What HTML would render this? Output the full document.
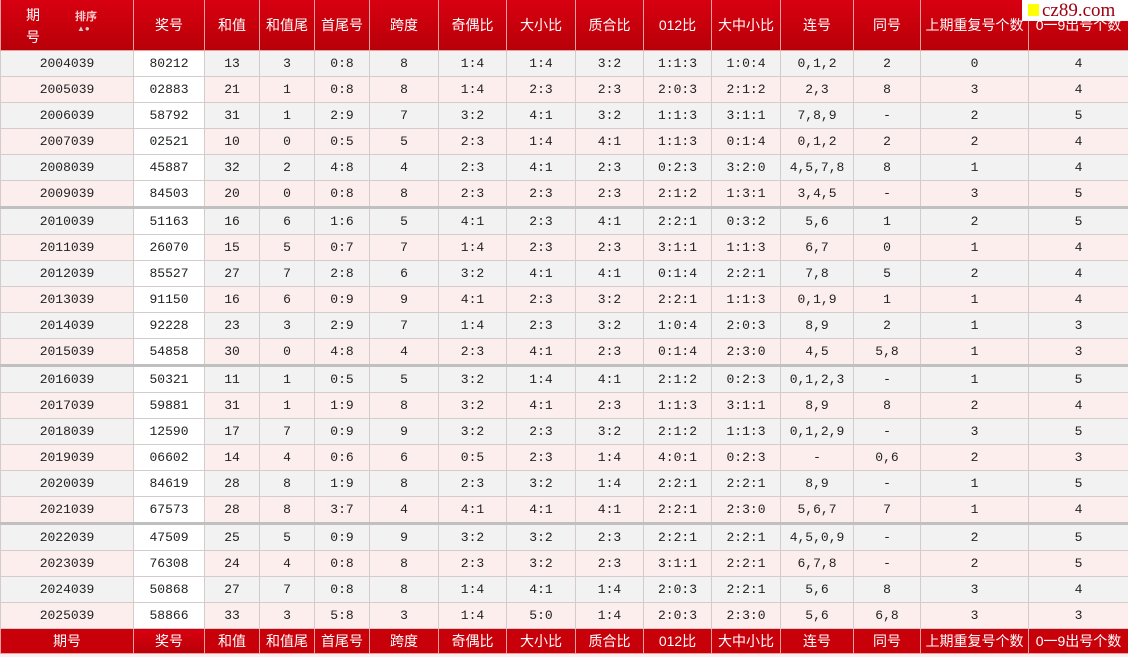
<!DOCTYPE html>
<html><head><meta charset="utf-8"><style>
body{margin:0;width:1128px;height:657px;overflow:hidden;background:#fdeeee;}
table{border-collapse:collapse;table-layout:fixed;width:1128px;position:absolute;left:0;top:0;}
td{border:1px solid #d4cccc;text-align:center;font:13px "Liberation Mono","Noto Sans CJK SC",monospace;color:#222;height:25px;padding:0;white-space:nowrap;overflow:hidden;}
tr.h td{background:linear-gradient(#d80010,#b80008);color:#fff;font:14px "Liberation Sans","Noto Sans CJK SC",sans-serif;height:50px;border:1px solid #e8a0a0;border-top:none;}
tr.f td{background:#c8000a;color:#fff;font:14px "Liberation Sans","Noto Sans CJK SC",sans-serif;height:24px;border:1px solid #e8a0a0;}
tr.o td{background:#f2f2f2;}
tr.e td{background:#fdeeee;}
tr td:nth-child(2){background:#fff;}
tr.h td:nth-child(2),tr.f td:nth-child(2){background:linear-gradient(#d80010,#b80008);}
tr.s td{border-top:3px solid #c0c0c0;}
.logo{position:absolute;left:1022px;top:0;width:106px;height:21px;background:#fff;font:19px "Liberation Serif",serif;color:#a00010;}
.logo i{display:inline-block;width:11px;height:12px;background:#ff0;margin:0 3px 0 6px;}
</style></head><body>
<table>
<colgroup><col style="width:133px"><col style="width:71px"><col style="width:55px"><col style="width:55px"><col style="width:55px"><col style="width:69px"><col style="width:68px"><col style="width:69px"><col style="width:68px"><col style="width:68px"><col style="width:69px"><col style="width:73px"><col style="width:67px"><col style="width:108px"><col style="width:100px"></colgroup>
<tr class="h"><td style="text-align:left;position:relative"><span style="position:absolute;left:25px;top:4px;line-height:22px">期<br>号</span><span style="position:absolute;left:74px;top:8px;font-size:11px;font-weight:bold;color:#fcc">排序</span><span style="position:absolute;left:76px;top:24px;font-size:8px;color:#ccc">▲●</span></td><td>奖号</td><td>和值</td><td>和值尾</td><td>首尾号</td><td>跨度</td><td>奇偶比</td><td>大小比</td><td>质合比</td><td>012比</td><td>大中小比</td><td>连号</td><td>同号</td><td>上期重复号个数</td><td>0一9出号个数</td></tr>
<tr class="o"><td>2004039</td><td>80212</td><td>13</td><td>3</td><td>0:8</td><td>8</td><td>1:4</td><td>1:4</td><td>3:2</td><td>1:1:3</td><td>1:0:4</td><td>0,1,2</td><td>2</td><td>0</td><td>4</td></tr>
<tr class="e"><td>2005039</td><td>02883</td><td>21</td><td>1</td><td>0:8</td><td>8</td><td>1:4</td><td>2:3</td><td>2:3</td><td>2:0:3</td><td>2:1:2</td><td>2,3</td><td>8</td><td>3</td><td>4</td></tr>
<tr class="o"><td>2006039</td><td>58792</td><td>31</td><td>1</td><td>2:9</td><td>7</td><td>3:2</td><td>4:1</td><td>3:2</td><td>1:1:3</td><td>3:1:1</td><td>7,8,9</td><td>-</td><td>2</td><td>5</td></tr>
<tr class="e"><td>2007039</td><td>02521</td><td>10</td><td>0</td><td>0:5</td><td>5</td><td>2:3</td><td>1:4</td><td>4:1</td><td>1:1:3</td><td>0:1:4</td><td>0,1,2</td><td>2</td><td>2</td><td>4</td></tr>
<tr class="o"><td>2008039</td><td>45887</td><td>32</td><td>2</td><td>4:8</td><td>4</td><td>2:3</td><td>4:1</td><td>2:3</td><td>0:2:3</td><td>3:2:0</td><td>4,5,7,8</td><td>8</td><td>1</td><td>4</td></tr>
<tr class="e"><td>2009039</td><td>84503</td><td>20</td><td>0</td><td>0:8</td><td>8</td><td>2:3</td><td>2:3</td><td>2:3</td><td>2:1:2</td><td>1:3:1</td><td>3,4,5</td><td>-</td><td>3</td><td>5</td></tr>
<tr class="o s"><td>2010039</td><td>51163</td><td>16</td><td>6</td><td>1:6</td><td>5</td><td>4:1</td><td>2:3</td><td>4:1</td><td>2:2:1</td><td>0:3:2</td><td>5,6</td><td>1</td><td>2</td><td>5</td></tr>
<tr class="e"><td>2011039</td><td>26070</td><td>15</td><td>5</td><td>0:7</td><td>7</td><td>1:4</td><td>2:3</td><td>2:3</td><td>3:1:1</td><td>1:1:3</td><td>6,7</td><td>0</td><td>1</td><td>4</td></tr>
<tr class="o"><td>2012039</td><td>85527</td><td>27</td><td>7</td><td>2:8</td><td>6</td><td>3:2</td><td>4:1</td><td>4:1</td><td>0:1:4</td><td>2:2:1</td><td>7,8</td><td>5</td><td>2</td><td>4</td></tr>
<tr class="e"><td>2013039</td><td>91150</td><td>16</td><td>6</td><td>0:9</td><td>9</td><td>4:1</td><td>2:3</td><td>3:2</td><td>2:2:1</td><td>1:1:3</td><td>0,1,9</td><td>1</td><td>1</td><td>4</td></tr>
<tr class="o"><td>2014039</td><td>92228</td><td>23</td><td>3</td><td>2:9</td><td>7</td><td>1:4</td><td>2:3</td><td>3:2</td><td>1:0:4</td><td>2:0:3</td><td>8,9</td><td>2</td><td>1</td><td>3</td></tr>
<tr class="e"><td>2015039</td><td>54858</td><td>30</td><td>0</td><td>4:8</td><td>4</td><td>2:3</td><td>4:1</td><td>2:3</td><td>0:1:4</td><td>2:3:0</td><td>4,5</td><td>5,8</td><td>1</td><td>3</td></tr>
<tr class="o s"><td>2016039</td><td>50321</td><td>11</td><td>1</td><td>0:5</td><td>5</td><td>3:2</td><td>1:4</td><td>4:1</td><td>2:1:2</td><td>0:2:3</td><td>0,1,2,3</td><td>-</td><td>1</td><td>5</td></tr>
<tr class="e"><td>2017039</td><td>59881</td><td>31</td><td>1</td><td>1:9</td><td>8</td><td>3:2</td><td>4:1</td><td>2:3</td><td>1:1:3</td><td>3:1:1</td><td>8,9</td><td>8</td><td>2</td><td>4</td></tr>
<tr class="o"><td>2018039</td><td>12590</td><td>17</td><td>7</td><td>0:9</td><td>9</td><td>3:2</td><td>2:3</td><td>3:2</td><td>2:1:2</td><td>1:1:3</td><td>0,1,2,9</td><td>-</td><td>3</td><td>5</td></tr>
<tr class="e"><td>2019039</td><td>06602</td><td>14</td><td>4</td><td>0:6</td><td>6</td><td>0:5</td><td>2:3</td><td>1:4</td><td>4:0:1</td><td>0:2:3</td><td>-</td><td>0,6</td><td>2</td><td>3</td></tr>
<tr class="o"><td>2020039</td><td>84619</td><td>28</td><td>8</td><td>1:9</td><td>8</td><td>2:3</td><td>3:2</td><td>1:4</td><td>2:2:1</td><td>2:2:1</td><td>8,9</td><td>-</td><td>1</td><td>5</td></tr>
<tr class="e"><td>2021039</td><td>67573</td><td>28</td><td>8</td><td>3:7</td><td>4</td><td>4:1</td><td>4:1</td><td>4:1</td><td>2:2:1</td><td>2:3:0</td><td>5,6,7</td><td>7</td><td>1</td><td>4</td></tr>
<tr class="o s"><td>2022039</td><td>47509</td><td>25</td><td>5</td><td>0:9</td><td>9</td><td>3:2</td><td>3:2</td><td>2:3</td><td>2:2:1</td><td>2:2:1</td><td>4,5,0,9</td><td>-</td><td>2</td><td>5</td></tr>
<tr class="e"><td>2023039</td><td>76308</td><td>24</td><td>4</td><td>0:8</td><td>8</td><td>2:3</td><td>3:2</td><td>2:3</td><td>3:1:1</td><td>2:2:1</td><td>6,7,8</td><td>-</td><td>2</td><td>5</td></tr>
<tr class="o"><td>2024039</td><td>50868</td><td>27</td><td>7</td><td>0:8</td><td>8</td><td>1:4</td><td>4:1</td><td>1:4</td><td>2:0:3</td><td>2:2:1</td><td>5,6</td><td>8</td><td>3</td><td>4</td></tr>
<tr class="e"><td>2025039</td><td>58866</td><td>33</td><td>3</td><td>5:8</td><td>3</td><td>1:4</td><td>5:0</td><td>1:4</td><td>2:0:3</td><td>2:3:0</td><td>5,6</td><td>6,8</td><td>3</td><td>3</td></tr>
<tr class="f"><td>期号</td><td>奖号</td><td>和值</td><td>和值尾</td><td>首尾号</td><td>跨度</td><td>奇偶比</td><td>大小比</td><td>质合比</td><td>012比</td><td>大中小比</td><td>连号</td><td>同号</td><td>上期重复号个数</td><td>0一9出号个数</td></tr>
</table>
<div class="logo"><i></i>cz89.com</div>
</body></html>
